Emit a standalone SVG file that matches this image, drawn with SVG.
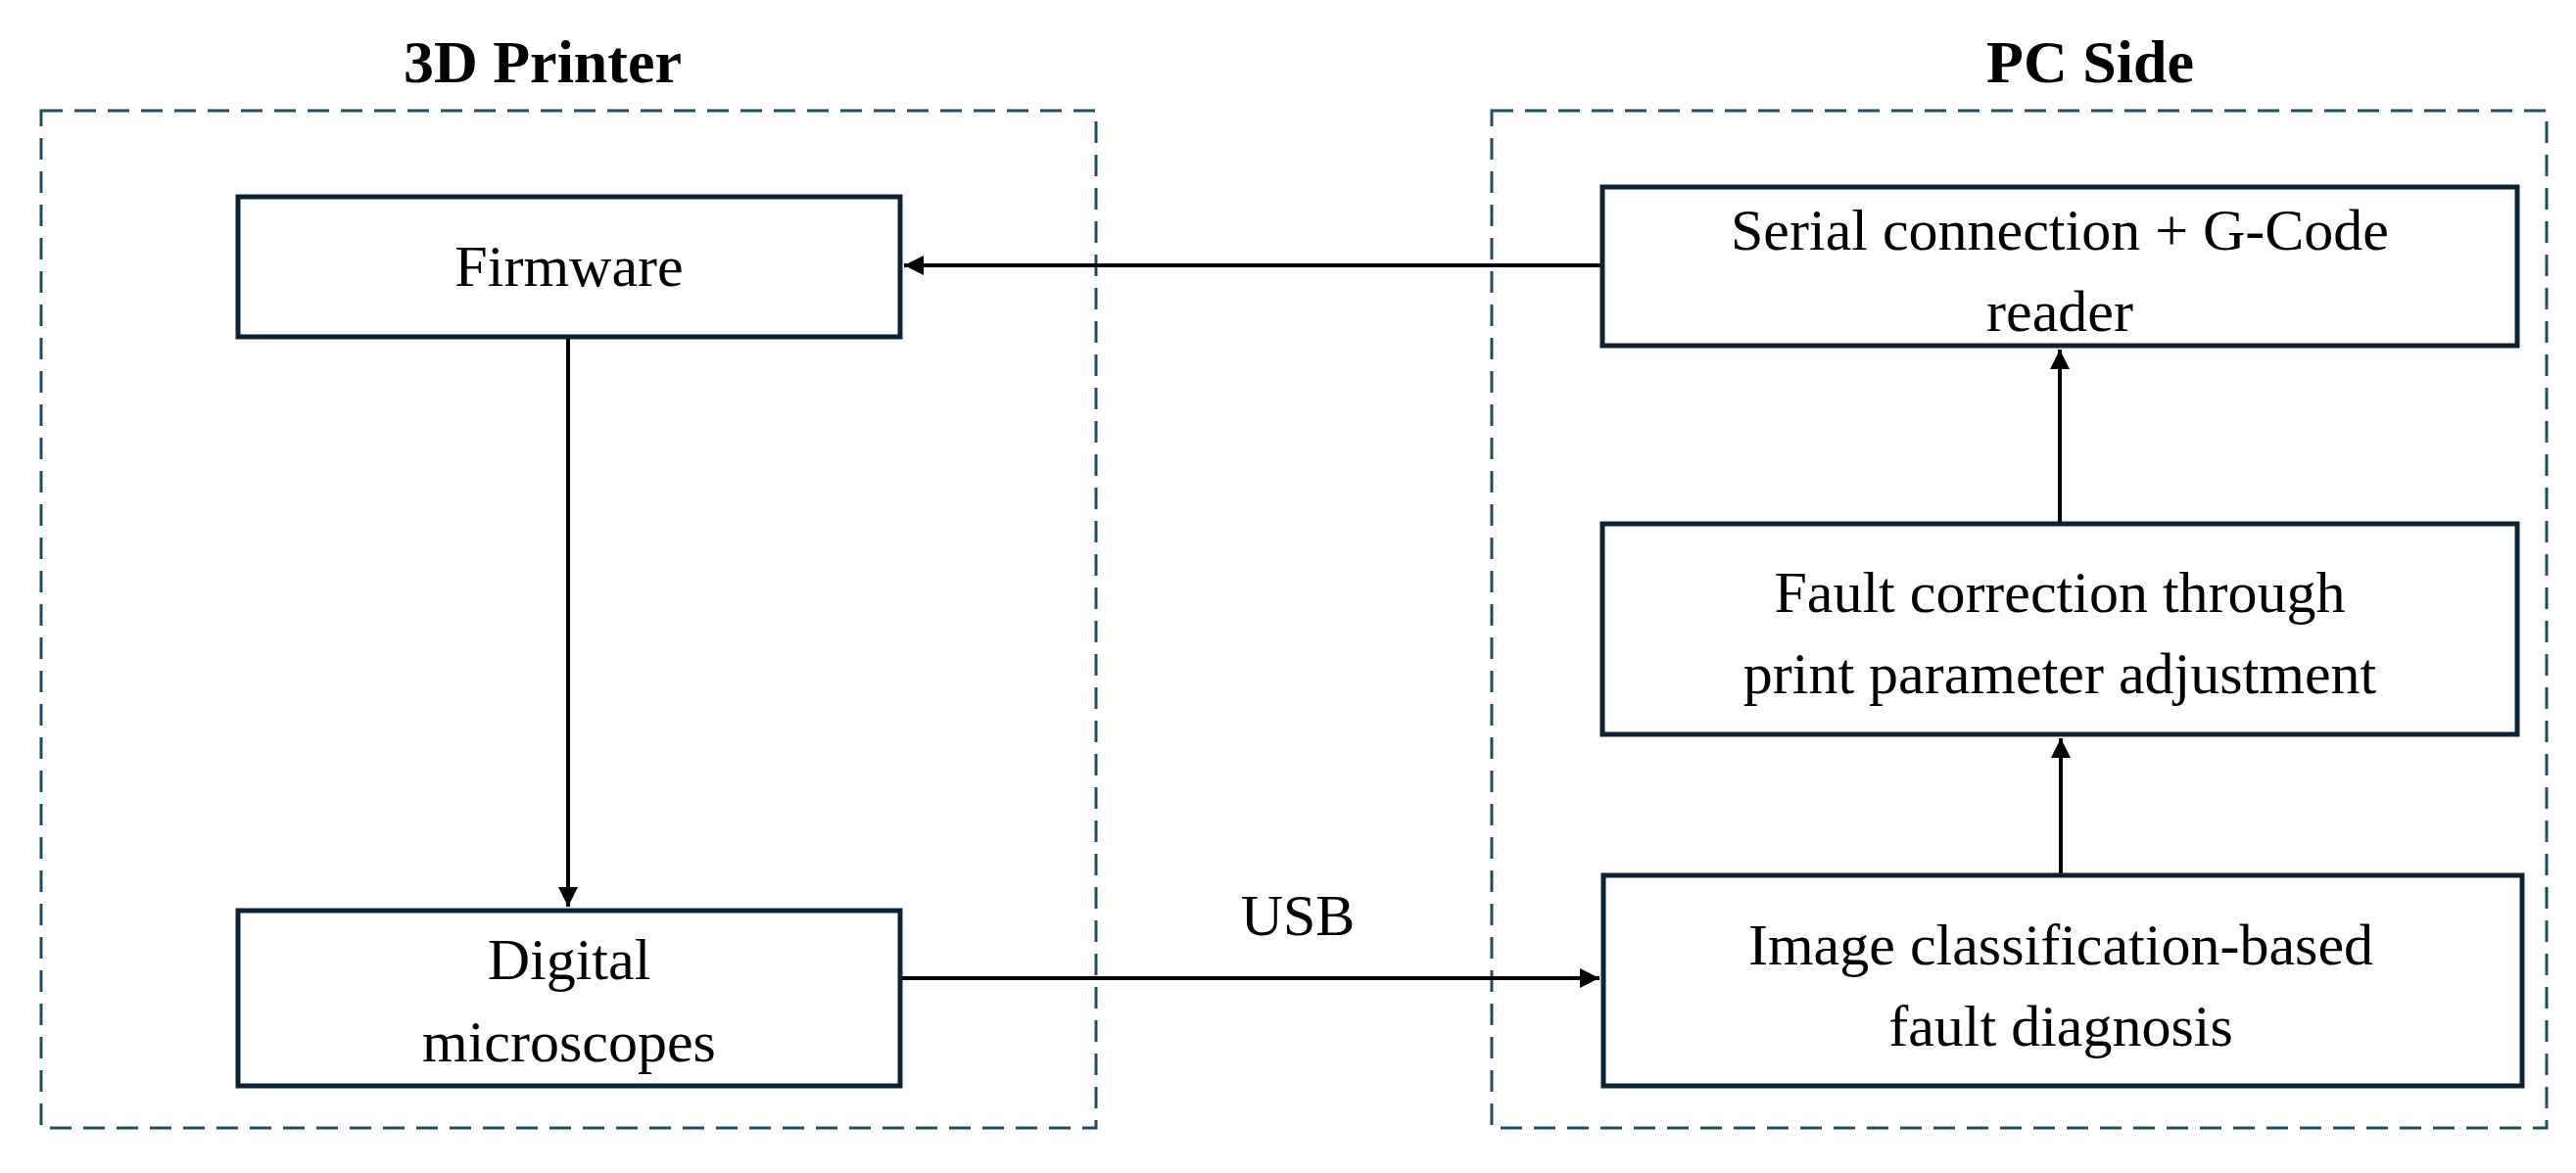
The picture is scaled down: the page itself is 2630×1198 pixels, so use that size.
<svg xmlns="http://www.w3.org/2000/svg" width="2630" height="1198" viewBox="0 0 2630 1198">
<style>
text{font-family:"Liberation Serif","Times New Roman",serif;fill:#000;text-anchor:middle}
.t{font-size:60px}
.h{font-size:62px;font-weight:bold}
.box{fill:#fff;stroke:#0d2233;stroke-width:5}
.grp{fill:none;stroke:#1f4e5f;stroke-width:3;stroke-dasharray:22 12}
.c{stroke:#000;stroke-width:4;fill:none}
</style>
<defs><marker id="a" viewBox="0 0 10 10" refX="10" refY="5" markerWidth="5" markerHeight="5" orient="auto" markerUnits="strokeWidth"><path d="M0,0L10,5L0,10z" fill="#000"/></marker></defs>
<g id="printer"><rect class="grp" x="42" y="113" width="1077" height="1039"/><text class="h" x="554" y="84">3D Printer</text></g>
<g id="pc"><rect class="grp" x="1523" y="113" width="1077" height="1039"/><text class="h" x="2134" y="84">PC Side</text></g>
<g id="connectors">
<line class="c" x1="1636" y1="271" x2="923" y2="271" marker-end="url(#a)"/>
<line class="c" x1="580" y1="344" x2="580" y2="926" stroke-width="3" marker-end="url(#a)"/>
<line class="c" x1="919" y1="999" x2="1633" y2="999" marker-end="url(#a)"/>
<line class="c" x1="2104" y1="894" x2="2104" y2="754" stroke-width="3" marker-end="url(#a)"/>
<line class="c" x1="2103" y1="535" x2="2103" y2="357" stroke-width="3" marker-end="url(#a)"/>
<text class="t" x="1325" y="955">USB</text>
</g>
<g id="firmware"><rect class="box" x="243" y="201" width="676" height="143"/><text class="t" x="581" y="292">Firmware</text></g>
<g id="microscopes"><rect class="box" x="243" y="930" width="676" height="179"/><text class="t" x="581" y="1000">Digital</text><text class="t" x="581" y="1084">microscopes</text></g>
<g id="serial"><rect class="box" x="1636" y="191" width="934" height="162"/><text class="t" x="2103" y="255">Serial connection + G-Code</text><text class="t" x="2103" y="338">reader</text></g>
<g id="fault"><rect class="box" x="1636" y="535" width="934" height="215"/><text class="t" x="2103" y="625">Fault correction through</text><text class="t" x="2103" y="708">print parameter adjustment</text></g>
<g id="image"><rect class="box" x="1637" y="894" width="938" height="215"/><text class="t" x="2104" y="985">Image classification-based</text><text class="t" x="2104" y="1068">fault diagnosis</text></g>
</svg>
